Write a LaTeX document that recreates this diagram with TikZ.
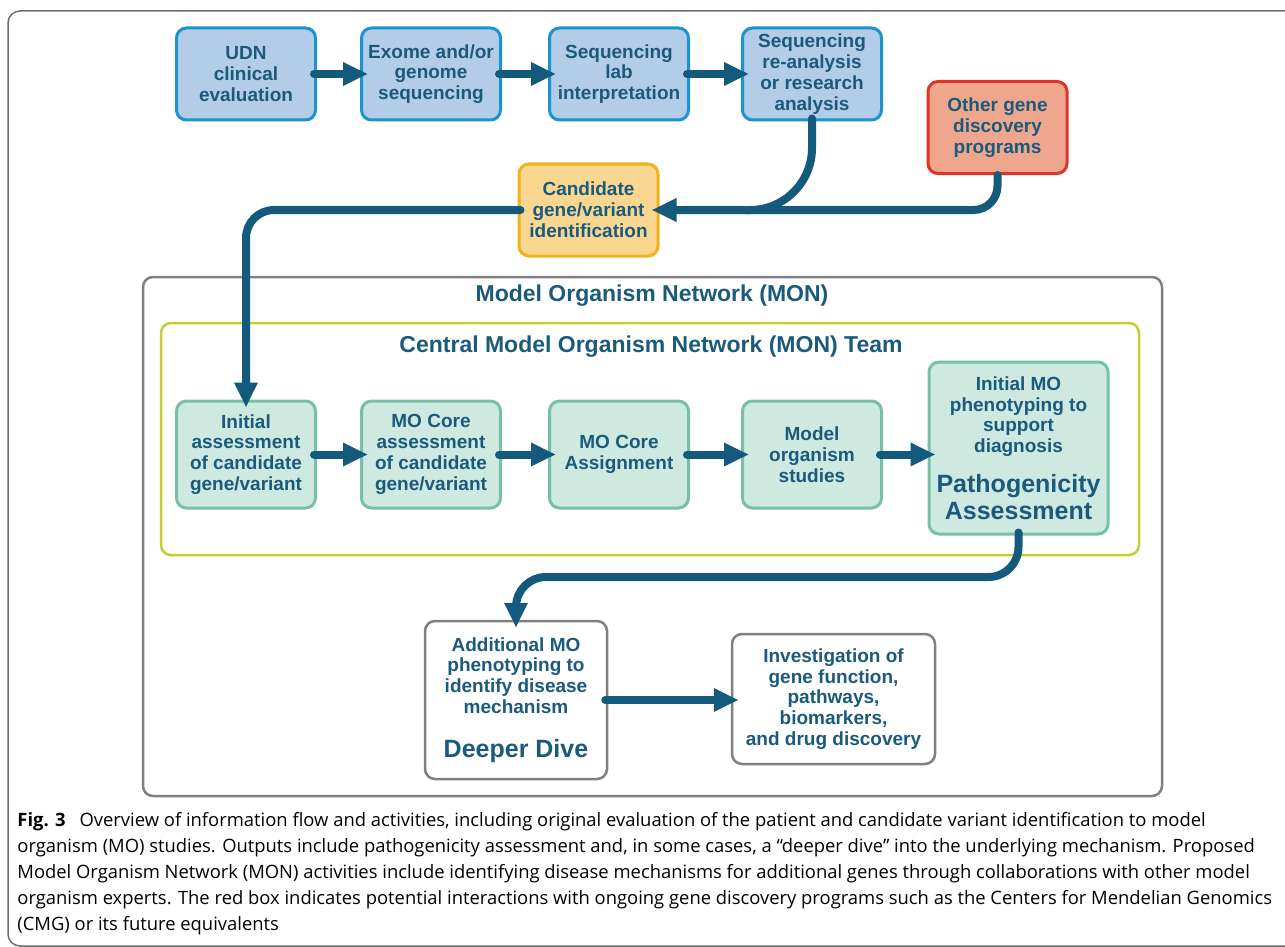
\documentclass[tikz,border=0pt]{standalone}
\usepackage{fontspec}
\setmainfont{Liberation Sans}
\newfontfamily\capfont{Open Sans}
\usetikzlibrary{arrows.meta,positioning}

\definecolor{txtc}{RGB}{27,90,125}
\definecolor{arrowc}{RGB}{20,90,125}
\definecolor{bluefill}{RGB}{179,205,232}
\definecolor{bluedraw}{RGB}{26,147,207}
\definecolor{candfill}{RGB}{249,215,145}
\definecolor{canddraw}{RGB}{242,178,30}
\definecolor{otherfill}{RGB}{238,167,141}
\definecolor{otherdraw}{RGB}{225,50,43}
\definecolor{tealfill}{RGB}{205,233,224}
\definecolor{tealdraw}{RGB}{120,191,168}
\definecolor{grayline}{RGB}{128,128,131}
\definecolor{limedraw}{RGB}{195,207,46}
\definecolor{framec}{RGB}{110,110,110}

\newcommand{\bigtxt}{\fontsize{12.5}{13}\selectfont}

\begin{document}
\begin{tikzpicture}[
    x=0.5pt, y=-0.5pt,
    font=\bfseries\fontsize{9.5}{10.4}\selectfont,
    box/.style={rounded corners=5pt, line width=1.5pt, align=center, text=txtc,
        minimum width=69.5pt, minimum height=46pt, inner sep=1pt},
    bluebox/.style={box, draw=bluedraw, fill=bluefill},
    tealbox/.style={box, draw=tealdraw, fill=tealfill, minimum height=53.5pt},
    whitebox/.style={box, draw=grayline, fill=white, line width=1.25pt},
    groupbox/.style={rounded corners=5pt, line width=1.25pt, minimum width=#1, inner sep=0pt},
    title/.style={text=txtc, font=\bfseries\fontsize{11.5}{13}\selectfont},
    arrow/.style={-{Triangle[length=12.5pt,width=11pt]}, line width=4pt, draw=arrowc,
        line cap=round, shorten >=-4pt, shorten <=-1.5pt},
    conn/.style={line width=4pt, draw=arrowc, line cap=round}
]
\useasboundingbox (0,0) rectangle (1285,947);

% outer frame of the figure
\draw[framec, line width=0.75pt, rounded corners=6pt] (1400,11) -- (8,11) -- (8,946) -- (1400,946);

% model organism network and central team
\node[groupbox=509.5pt, draw=grayline, minimum height=259.5pt] (mon) at (652.5,536.5) {};
\node[title] (montitle) at (652,296) {Model Organism Network (MON)};
\node[groupbox=489pt, draw=limedraw, minimum height=116pt] (central) at (650,439) {};
\node[title] (centraltitle) at (651,347) {Central Model Organism Network (MON) Team};

% top row
\node[bluebox] (udn) at (246,74) {UDN\\clinical\\evaluation};
\node[bluebox, right=21.5pt of udn] (exome) {Exome and/or\\genome\\sequencing};
\node[bluebox, right=23pt of exome] (seqlab) {Sequencing\\lab\\interpretation};
\node[bluebox, right=25.5pt of seqlab] (reana) {Sequencing\\re-analysis\\or research\\analysis};
\node[box, draw=otherdraw, fill=otherfill] (other) at (997.5,127.5) {Other gene\\discovery\\programs};
\node[box, draw=canddraw, fill=candfill] (cand) at (588.5,210) {Candidate\\gene/variant\\identification};
\coordinate (join) at (745,210);

% central team row
\node[tealbox] (init) at (246,454.5) {Initial\\assessment\\of candidate\\gene/variant};
\node[tealbox, right=21.5pt of init] (core) {MO Core\\assessment\\of candidate\\gene/variant};
\node[tealbox, right=23pt of core] (assign) {MO Core\\Assignment};
\node[tealbox, right=25.5pt of assign] (studies) {Model\\organism\\studies};
\node[tealbox, minimum width=89.5pt, minimum height=86pt] (patho) at (1018.5,448)
    {Initial MO\\phenotyping to\\support\\diagnosis\\[8pt]\bigtxt Pathogenicity\\[1pt]\bigtxt Assessment};

% deeper dive row
\node[whitebox, minimum width=91pt, minimum height=79pt] (deeper) at (516,700)
    {Additional MO\\phenotyping to\\identify disease\\mechanism\\[11.5pt]\bigtxt Deeper Dive};
\node[whitebox, minimum width=101.5pt, minimum height=65pt] (invest) at (833.5,699)
    {Investigation of\\gene function,\\pathways,\\biomarkers,\\and drug discovery};
\coordinate (bend) at (760,577);

% connectors
\draw[arrow] (udn) -- (exome);
\draw[arrow] (exome) -- (seqlab);
\draw[arrow] (seqlab) -- (reana);
\draw[arrow, rounded corners=31pt] (reana.south) |- (cand.east);
\draw[conn, rounded corners=12pt] (other.south) |- (join);
\draw[arrow, rounded corners=14pt] (cand.west) -| (init.north);
\draw[arrow] (init.east) -- (core.west);
\draw[arrow] (core.east) -- (assign.west);
\draw[arrow] (assign.east) -- (studies.west);
\draw[arrow] (studies.east) -- (studies.east -| patho.west);
\draw[arrow, rounded corners=15pt] (patho.south) |- (bend) -| (deeper.north);
\draw[arrow] (deeper.east) -- (deeper.east -| invest.west);

% caption
\node[anchor=north west, inner sep=0pt, align=left, font=\capfont\fontsize{9.2}{13}\selectfont] (caption) at (17,812)
    {\textbf{Fig. 3}\hspace{0.5em} Overview of information flow and activities, including original evaluation of the patient and candidate variant identification to model\\
     organism (MO) studies. Outputs include pathogenicity assessment and, in some cases, a “deeper dive” into the underlying mechanism. Proposed\\
     Model Organism Network (MON) activities include identifying disease mechanisms for additional genes through collaborations with other model\\
     organism experts. The red box indicates potential interactions with ongoing gene discovery programs such as the Centers for Mendelian Genomics\\
     (CMG) or its future equivalents};
\end{tikzpicture}
\end{document}
